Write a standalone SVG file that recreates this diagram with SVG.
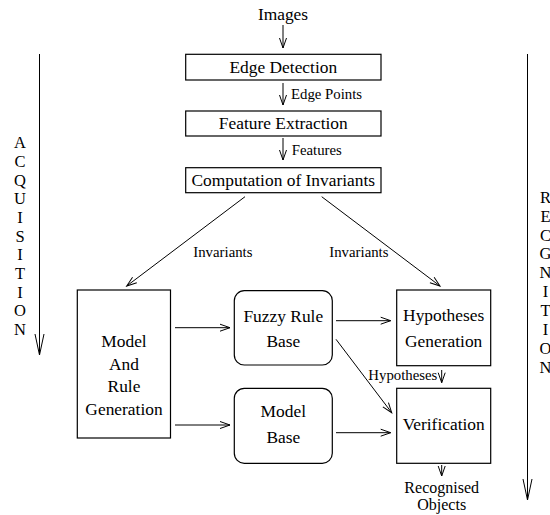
<svg xmlns="http://www.w3.org/2000/svg" width="550" height="515" viewBox="0 0 550 515" font-family="Liberation Serif, serif">
<defs>
<style>
.box{fill:#fff;stroke:#000;stroke-width:1.2}
.nodetxt{font-family:'Liberation Serif',serif;font-size:17.4px;text-anchor:middle;fill:#000}
.edgelbl{font-family:'Liberation Serif',serif;font-size:14.8px;fill:#000}
.vert{font-family:'Liberation Serif',serif;font-size:16.5px;text-anchor:middle;fill:#000}
.c{fill:none;stroke:#000;stroke-width:1}
.a{marker-end:url(#ah)}
.al{marker-end:url(#ahl)}
</style>
<marker id="ah" markerUnits="userSpaceOnUse" markerWidth="12" markerHeight="10" refX="10" refY="4" orient="auto" overflow="visible">
<path d="M0,0.5 L10,4 L0,7.5" fill="none" stroke="#000" stroke-width="1"/>
</marker>
<marker id="ahl" markerUnits="userSpaceOnUse" markerWidth="24" markerHeight="12" refX="21" refY="5" orient="auto" overflow="visible">
<path d="M0,0.5 L21,5 L0,9.5" fill="none" stroke="#000" stroke-width="1"/>
</marker>
</defs>

<g id="connectors">
<line class="c a" x1="283" y1="25" x2="283" y2="48"/>
<line class="c a" x1="283" y1="83" x2="283" y2="105"/>
<line class="c a" x1="283" y1="138" x2="283" y2="160"/>
<line class="c a" x1="245" y1="196.7" x2="126.7" y2="286"/>
<line class="c a" x1="321.7" y1="196.7" x2="440" y2="286"/>
<line class="c a" x1="175" y1="327.7" x2="230" y2="327.7"/>
<line class="c a" x1="175" y1="425" x2="230" y2="425"/>
<line class="c a" x1="336" y1="320.7" x2="390.7" y2="320.7"/>
<line class="c a" x1="336" y1="339.3" x2="391.7" y2="412.7"/>
<line class="c a" x1="336" y1="432.7" x2="390.7" y2="432.7"/>
<line class="c a" x1="441.7" y1="370" x2="441.7" y2="382.7"/>
<line class="c a" x1="441.7" y1="465" x2="441.7" y2="476"/>
<line class="c al" x1="39.5" y1="54" x2="39.5" y2="355"/>
<line class="c al" x1="527.5" y1="54" x2="527.5" y2="500"/>
<text class="edgelbl" x="291" y="99">Edge Points</text>
<text class="edgelbl" x="291.7" y="155">Features</text>
<text class="edgelbl" x="193.3" y="256.7">Invariants</text>
<text class="edgelbl" x="329.3" y="256.7">Invariants</text>
<text class="edgelbl" x="368.3" y="380">Hypotheses</text>
</g>

<g id="images"><text class="nodetxt" x="283" y="20">Images</text></g>

<g id="edge-detection">
<rect class="box" x="185.7" y="54.3" width="195.3" height="25.7"/>
<text class="nodetxt" x="283.3" y="73">Edge Detection</text>
</g>

<g id="feature-extraction">
<rect class="box" x="185.7" y="111" width="195.3" height="25"/>
<text class="nodetxt" x="283.3" y="129">Feature Extraction</text>
</g>

<g id="computation">
<rect class="box" x="185.7" y="167.7" width="195.3" height="25"/>
<text class="nodetxt" x="283.3" y="185.5">Computation of Invariants</text>
</g>

<g id="model-rule-generation">
<rect class="box" x="77.3" y="290" width="93.2" height="148"/>
<text class="nodetxt" x="124" y="347">Model</text>
<text class="nodetxt" x="124" y="370">And</text>
<text class="nodetxt" x="124" y="392">Rule</text>
<text class="nodetxt" x="124" y="415">Generation</text>
</g>

<g id="fuzzy-rule-base">
<rect class="box" x="234.3" y="290.7" width="98" height="74.3" rx="10" ry="10"/>
<text class="nodetxt" x="283.3" y="321.7">Fuzzy Rule</text>
<text class="nodetxt" x="283.3" y="346.7">Base</text>
</g>

<g id="model-base">
<rect class="box" x="234.3" y="388.3" width="98" height="75" rx="10" ry="10"/>
<text class="nodetxt" x="283.3" y="417.3">Model</text>
<text class="nodetxt" x="283.3" y="443.3">Base</text>
</g>

<g id="hypotheses-generation">
<rect class="box" x="396.7" y="290" width="94" height="75.7"/>
<text class="nodetxt" x="443.7" y="320.7">Hypotheses</text>
<text class="nodetxt" x="443.7" y="346.7">Generation</text>
</g>

<g id="verification">
<rect class="box" x="396.7" y="388.3" width="94" height="75"/>
<text class="nodetxt" x="443.7" y="430">Verification</text>
</g>

<g id="recognised-objects">
<text class="nodetxt" x="441.7" y="493.3" style="font-size:16px">Recognised</text>
<text class="nodetxt" x="441.7" y="510" style="font-size:16px">Objects</text>
</g>

<g id="acquisition">
<text class="vert" x="20" y="148.3">A</text>
<text class="vert" x="20" y="167">C</text>
<text class="vert" x="20" y="185.7">Q</text>
<text class="vert" x="20" y="204.3">U</text>
<text class="vert" x="20" y="223">I</text>
<text class="vert" x="20" y="241.7">S</text>
<text class="vert" x="20" y="260.3">I</text>
<text class="vert" x="20" y="279">T</text>
<text class="vert" x="20" y="297.7">I</text>
<text class="vert" x="20" y="316.3">O</text>
<text class="vert" x="20" y="335">N</text>
</g>

<g id="recognition">
<text class="vert" x="545.5" y="202.7">R</text>
<text class="vert" x="545.5" y="221.6">E</text>
<text class="vert" x="545.5" y="240.5">C</text>
<text class="vert" x="545.5" y="259.4">G</text>
<text class="vert" x="545.5" y="278.3">N</text>
<text class="vert" x="545.5" y="297.2">I</text>
<text class="vert" x="545.5" y="316.1">T</text>
<text class="vert" x="545.5" y="335">I</text>
<text class="vert" x="545.5" y="353.9">O</text>
<text class="vert" x="545.5" y="372.8">N</text>
</g>
</svg>
